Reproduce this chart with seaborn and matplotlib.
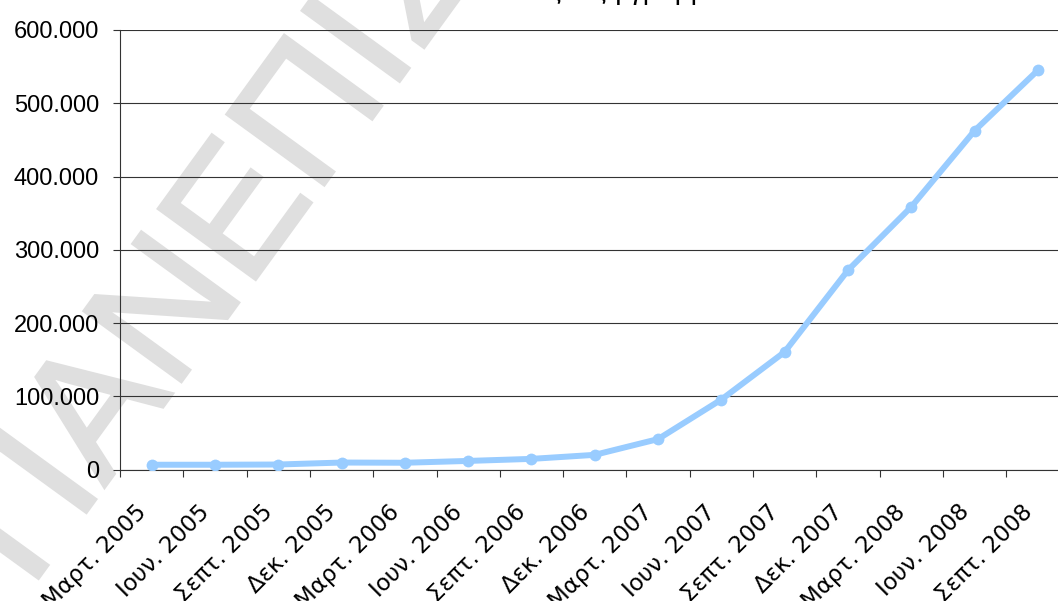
import numpy as np
import pandas as pd
import matplotlib
matplotlib.use("Agg")
import matplotlib.pyplot as plt
import matplotlib.transforms as mtransforms
import matplotlib.patheffects as pe
from matplotlib.ticker import FuncFormatter, FixedLocator
import seaborn as sns

# Quarterly totals, March 2005 – September 2008
quarters = ["Μαρτ. 2005", "Ιουν. 2005", "Σεπτ. 2005", "Δεκ. 2005",
            "Μαρτ. 2006", "Ιουν. 2006", "Σεπτ. 2006", "Δεκ. 2006",
            "Μαρτ. 2007", "Ιουν. 2007", "Σεπτ. 2007", "Δεκ. 2007",
            "Μαρτ. 2008", "Ιουν. 2008", "Σεπτ. 2008"]
lines_total = [6500, 6500, 6800, 9500, 9200, 11700, 14500, 20000,
               41500, 95500, 160500, 272000, 358500, 462500, 545000]
y_ticks = [0, 100000, 200000, 300000, 400000, 500000, 600000]

title_text = "Εξέλιξη γραμμών"
watermark_text = "ΠΑΝΕΠΙΣΤΗΜΙΟ"

sns.set_theme(style="white")
plt.rcParams["font.family"] = ["Liberation Sans", "DejaVu Sans"]

W, H = 1058, 601
fig = plt.figure(figsize=(W / 100, H / 100), dpi=100)
ax = fig.add_axes([120 / W, 1 - 469.5 / H, (1069.5 - 120) / W, (469.5 - 30) / H])
ax.patch.set_visible(False)

df = pd.DataFrame({"quarter": quarters, "lines": lines_total})
sns.lineplot(data=df, x="quarter", y="lines", ax=ax, color="#99CCFF",
             linewidth=4.3, marker="o", markersize=8.5,
             markeredgewidth=0, sort=False, zorder=5)

ax.set_xlim(-0.5, len(quarters) - 0.5)
ax.set_ylim(0, 600000)
ax.set_xlabel("")
ax.set_ylabel("")

# horizontal gridlines
ax.yaxis.set_major_locator(FixedLocator(y_ticks))
ax.yaxis.set_major_formatter(FuncFormatter(lambda v, p: f"{int(v):,}".replace(",", ".")))
ax.grid(axis="y", color="#333333", linewidth=0.8)
ax.grid(axis="x", visible=False)

for s in ["top", "right"]:
    ax.spines[s].set_visible(False)
for s in ["left", "bottom"]:
    ax.spines[s].set_color("#333333")
    ax.spines[s].set_linewidth(0.8)

ax.tick_params(axis="y", which="major", length=5, width=0.8, color="#333333",
               direction="out", pad=10, labelsize=17, labelcolor="black", left=True)

# category labels centred, tick marks between categories
ax.set_xticks(range(len(quarters)))
ax.set_xticks(np.arange(-0.5, len(quarters), 1.0), minor=True)
ax.tick_params(axis="x", which="major", length=0, pad=28, labelsize=16.5,
               labelcolor="black", bottom=True)
ax.tick_params(axis="x", which="minor", length=5, width=0.8, color="#333333",
               direction="out", bottom=True)
offset = mtransforms.ScaledTranslation(-9 / 100, 0, fig.dpi_scale_trans)
for lab in ax.get_xticklabels():
    lab.set_rotation(45)
    lab.set_ha("right")
    lab.set_va("center")
    lab.set_rotation_mode("anchor")
    lab.set_fontfamily(["DejaVu Sans"])
    lab.set_transform(lab.get_transform() + offset)

# chart title (sits at the very top edge)
fig.text(530 / W, 1 + 1.0 / H, title_text, ha="left", va="baseline",
         fontsize=20, color="black")

# diagonal watermark behind the chart content
wm_color = "#dfdfdf"
fig.text(30 / W, 1 - 590 / H, watermark_text, rotation=54,
         rotation_mode="anchor", ha="left", va="baseline",
         fontsize=126, color=wm_color,
         fontfamily=["Liberation Sans"], zorder=-1,
         path_effects=[pe.Stroke(linewidth=2.2, foreground=wm_color,
                                 joinstyle="miter"), pe.Normal()])

fig.savefig("out.png", dpi=100)
